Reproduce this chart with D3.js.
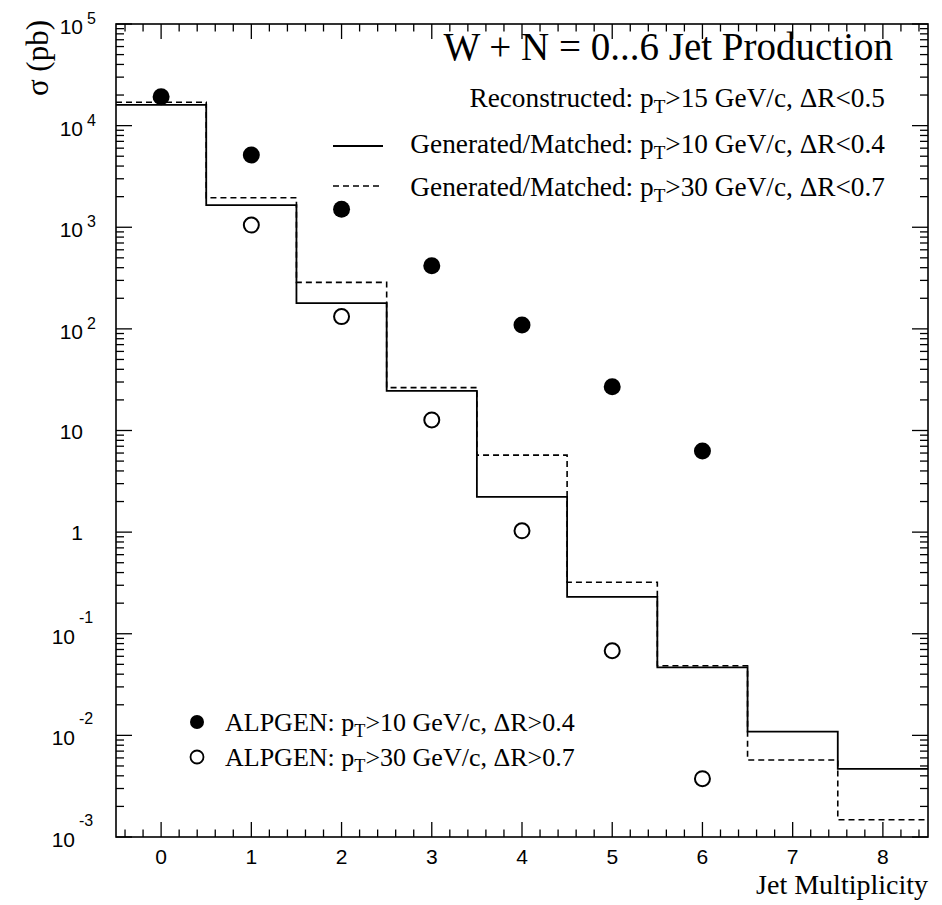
<!DOCTYPE html>
<html><head><meta charset="utf-8">
<script src="https://cdn.jsdelivr.net/npm/d3@7"></script>
<style>body{margin:0;background:#fff}</style>
</head><body><svg id="c" width="942" height="905"></svg>
<script>
// ---- data ----
const bins = [0,1,2,3,4,5,6,7,8];
const genMatched10 = [16000, 1650, 179, 24.5, 2.22, 0.231, 0.0467, 0.0109, 0.00468];   // solid
const genMatched30 = [17000, 1950, 287, 26.4, 5.72, 0.321, 0.0484, 0.00573, 0.00148];  // dashed
const alpgenX = [0,1,2,3,4,5,6];
const alpgen10 = [19200, 5130, 1500, 418, 109, 27.0, 6.3];      // filled
const alpgen30X = [1,2,3,4,5,6];
const alpgen30 = [1050, 132, 12.7, 1.03, 0.068, 0.00375];        // open
const yDecades = [1e-3,1e-2,1e-1,1,10,1e2,1e3,1e4,1e5];
const yLabelBase = ["10","10","10","1","10","10","10","10","10"];
const yLabelExp = ["-3","-2","-1","","","2","3","4","5"];
const xTickLabels = ["0","1","2","3","4","5","6","7","8"];

const svg = d3.select("#c");
const L=116, R=928, T=24, B=837;
const x = d3.scaleLinear().domain([-0.5, 8.5]).range([L, R]);
const y = d3.scaleLog().domain([1e-3, 1e5]).range([B, T]);

// frame
svg.append("rect").attr("x",L).attr("y",T).attr("width",R-L).attr("height",B-T)
  .attr("fill","none").attr("stroke","#000").attr("stroke-width",1.6);

const tk = svg.append("g").attr("stroke","#000").attr("stroke-width",1.3);
// x ticks
const xMinor = d3.range(-2, 43).map(i => i*0.2).filter(v => v>-0.5 && v<8.5 && Math.abs(v-Math.round(v))>1e-6);
bins.forEach(v => {
  tk.append("line").attr("x1",x(v)).attr("x2",x(v)).attr("y1",B).attr("y2",B-15);
  tk.append("line").attr("x1",x(v)).attr("x2",x(v)).attr("y1",T).attr("y2",T+15);
});
xMinor.forEach(v => {
  tk.append("line").attr("x1",x(v)).attr("x2",x(v)).attr("y1",B).attr("y2",B-7.5);
  tk.append("line").attr("x1",x(v)).attr("x2",x(v)).attr("y1",T).attr("y2",T+7.5);
});
// y ticks
yDecades.forEach(v => {
  tk.append("line").attr("x1",L).attr("x2",L+16).attr("y1",y(v)).attr("y2",y(v));
  tk.append("line").attr("x1",R).attr("x2",R-16).attr("y1",y(v)).attr("y2",y(v));
});
yDecades.slice(0,-1).forEach(d => {
  for (let k=2;k<=9;k++){
    const v=d*k;
    tk.append("line").attr("x1",L).attr("x2",L+8).attr("y1",y(v)).attr("y2",y(v));
    tk.append("line").attr("x1",R).attr("x2",R-8).attr("y1",y(v)).attr("y2",y(v));
  }
});

// x tick labels
svg.append("g").selectAll("text").data(bins).join("text")
  .attr("x", d=>x(d)).attr("y", B+27).attr("text-anchor","middle")
  .attr("font-family","Liberation Sans, Arial, sans-serif").attr("font-size",21)
  .text((d,i)=>xTickLabels[i]);

// y tick labels
yDecades.forEach((v,i) => {
  const yy = y(v);
  if (yLabelExp[i]==="") {
    svg.append("text").attr("x",83).attr("y",yy+8).attr("text-anchor","end")
      .attr("font-family","Liberation Sans, Arial, sans-serif").attr("font-size",21).text(yLabelBase[i]);
  } else {
    const neg = yLabelExp[i].startsWith("-");
    const baseRight = neg ? 75 : 83;
    svg.append("text").attr("x",baseRight).attr("y",yy+10).attr("text-anchor","end")
      .attr("font-family","Liberation Sans, Arial, sans-serif").attr("font-size",21).text(yLabelBase[i]);
    svg.append("text").attr("x",baseRight+4).attr("y",yy+10-(neg?21:10)).attr("text-anchor","start")
      .attr("font-family","Liberation Sans, Arial, sans-serif").attr("font-size",16).text(yLabelExp[i]);
  }
});

// histograms
function stepPath(vals){
  const pts=[];
  vals.forEach((v,i)=>{ pts.push([x(bins[i]-0.5), y(v)]); pts.push([x(bins[i]+0.5), y(v)]); });
  return d3.line()(pts);
}
svg.append("path").attr("d",stepPath(genMatched30)).attr("fill","none").attr("stroke","#000")
  .attr("stroke-width",1.6).attr("stroke-dasharray","6,4");
svg.append("path").attr("d",stepPath(genMatched10)).attr("fill","none").attr("stroke","#000")
  .attr("stroke-width",1.8);

// points
svg.append("g").selectAll("circle").data(alpgen30).join("circle")
  .attr("cx",(d,i)=>x(alpgen30X[i])).attr("cy",d=>y(d)).attr("r",7.5)
  .attr("fill","#fff").attr("stroke","#000").attr("stroke-width",2);
svg.append("g").selectAll("circle").data(alpgen10).join("circle")
  .attr("cx",(d,i)=>x(alpgenX[i])).attr("cy",d=>y(d)).attr("r",8.5).attr("fill","#000");

// texts
const serif = "Liberation Serif, Times New Roman, serif";
svg.append("text").attr("x",893).attr("y",60).attr("text-anchor","end")
  .attr("font-family",serif).attr("font-size",39).text("W + N = 0...6 Jet Production");

function ptLine(xx, yy, pre, post, anchor, fs){
  const t = svg.append("text").attr("x",xx).attr("y",yy).attr("text-anchor",anchor)
    .attr("font-family",serif).attr("font-size",fs);
  t.append("tspan").text(pre+"p");
  t.append("tspan").attr("dy",6).attr("font-size",fs*0.7).text("T");
  t.append("tspan").attr("dy",-6).text(post);
  return t;
}
ptLine(885, 107, "Reconstructed: ", ">15 GeV/c, \u0394R<0.5", "end", 27.3);
ptLine(885, 153, "Generated/Matched: ", ">10 GeV/c, \u0394R<0.4", "end", 27.3);
ptLine(885, 196, "Generated/Matched: ", ">30 GeV/c, \u0394R<0.7", "end", 27.3);

svg.append("line").attr("x1",333).attr("x2",383).attr("y1",146).attr("y2",146)
  .attr("stroke","#000").attr("stroke-width",1.8);
svg.append("line").attr("x1",333).attr("x2",383).attr("y1",186).attr("y2",186)
  .attr("stroke","#000").attr("stroke-width",1.6).attr("stroke-dasharray","6,4");

svg.append("circle").attr("cx",197).attr("cy",722).attr("r",7).attr("fill","#000");
svg.append("circle").attr("cx",197).attr("cy",757).attr("r",6.5).attr("fill","#fff")
  .attr("stroke","#000").attr("stroke-width",1.8);
ptLine(225, 731, "ALPGEN: ", ">10 GeV/c, \u0394R>0.4", "start", 26);
ptLine(225, 766, "ALPGEN: ", ">30 GeV/c, \u0394R>0.7", "start", 26);

// axis titles
svg.append("text").attr("x",928).attr("y",894).attr("text-anchor","end")
  .attr("font-family",serif).attr("font-size",28).text("Jet Multiplicity");
svg.append("text").attr("transform","translate(48,20) rotate(-90)").attr("text-anchor","end")
  .attr("font-family",serif).attr("font-size",31).text("\u03c3 (pb)");
</script></body></html>
